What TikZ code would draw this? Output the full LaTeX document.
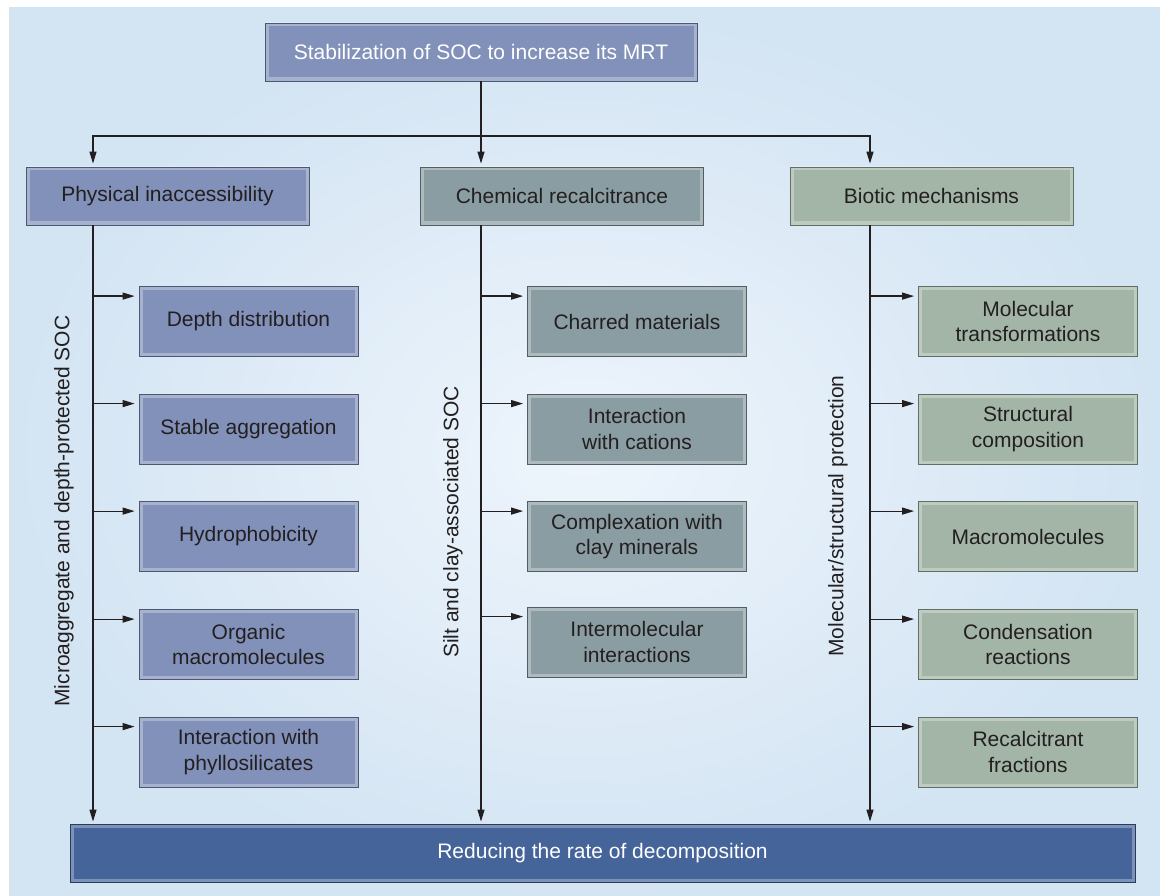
\documentclass[tikz,border=0pt]{standalone}
\usepackage{fontspec}
\setmainfont{Liberation Sans}
\usetikzlibrary{arrows.meta,calc}
\definecolor{physfill}{HTML}{8191B9}
\definecolor{chemfill}{HTML}{8A9DA3}
\definecolor{biofill}{HTML}{A3B5A7}
\definecolor{endfill}{HTML}{44649A}
\definecolor{inktext}{HTML}{231F20}
\definecolor{bgblue}{HTML}{D3E4F3}
\definecolor{bglight}{HTML}{EEF5FC}
\begin{document}
\begin{tikzpicture}[x=1pt,y=-1pt,
    every node/.style={font=\fontsize{21}{25.5}\selectfont, text=inktext},
    box/.style={draw=#1!60!black, fill=#1, line width=0.8pt, align=center, inner sep=0pt,
      path picture={\draw[white, opacity=0.3, line width=7pt]
        (path picture bounding box.south west) rectangle (path picture bounding box.north east);}},
    head/.style={box=#1, minimum width=283pt, minimum height=58pt},
    item/.style={box=#1, minimum width=219pt, minimum height=70pt},
    arr/.style={-{Triangle[length=12pt,width=7pt]}, line width=1.2pt, draw=inktext},
    side/.style={rotate=90}]
  \useasboundingbox (0,0) rectangle (1160,896);
  \shade[inner color=bglight, outer color=bgblue] (9,8) rectangle (1160,896);

  % top and bottom
  \node[box=physfill, minimum width=432pt, minimum height=58pt, text=white] (goal) at (481,52) {Stabilization of SOC to increase its MRT};
  \node[box=endfill, minimum width=1065pt, minimum height=58pt, text=white] (rate) at (602.5,853) {Reducing the rate of decomposition};

  % three mechanisms
  \node[head=physfill] (phys) at (167.5,196) {Physical inaccessibility};
  \node[head=chemfill] (chem) at (562,196) {Chemical recalcitrance};
  \node[head=biofill] (bio) at (931.5,196) {Biotic mechanisms};

  \node[item=physfill] (p1) at (248.5,321.5) {Depth distribution};
  \node[item=physfill] (p2) at (248.5,429) {Stable aggregation};
  \node[item=physfill] (p3) at (248.5,536.5) {Hydrophobicity};
  \node[item=physfill] (p4) at (248.5,644.5) {Organic\\macromolecules};
  \node[item=physfill] (p5) at (248.5,752) {Interaction with\\phyllosilicates};

  \node[item=chemfill] (c1) at (637,321.5) {Charred materials};
  \node[item=chemfill] (c2) at (637,429) {Interaction\\with cations};
  \node[item=chemfill] (c3) at (637,536.5) {Complexation with\\clay minerals};
  \node[item=chemfill] (c4) at (637,642) {Intermolecular\\interactions};

  \node[item=biofill] (b1) at (1028,321.5) {Molecular\\transformations};
  \node[item=biofill] (b2) at (1028,429) {Structural\\composition};
  \node[item=biofill] (b3) at (1028,536.5) {Macromolecules};
  \node[item=biofill] (b4) at (1028,644.5) {Condensation\\reactions};
  \node[item=biofill] (b5) at (1028,752) {Recalcitrant\\fractions};

  \node[side] (lbla) at (64,511) {Microaggregate and depth-protected SOC};
  \node[side] (lblb) at (453,522) {Silt and clay-associated SOC};
  \node[side] (lblc) at (838,516) {Molecular/structural protection};

  % connectors
  \coordinate (ta) at (93,0);
  \coordinate (tb) at (481,0);
  \coordinate (tc) at (870,0);
  \coordinate (split) at (481,136);
  \draw[arr, shorten >=3pt] (goal.south) -- (chem.north -| tb);
  \draw[arr, shorten >=3pt] (split) -| (phys.north -| ta);
  \draw[arr, shorten >=3pt] (split) -| (bio.north -| tc);

  \draw[arr, shorten >=2pt] (phys.south -| ta) -- (rate.north -| ta);
  \draw[arr, shorten >=2pt] (chem.south -| tb) -- (rate.north -| tb);
  \draw[arr, shorten >=2pt] (bio.south -| tc) -- (rate.north -| tc);

  \foreach \n in {p1,p2,p3,p4,p5}
    \draw[arr] (ta |- \n.north west) ++(0,10) -- ($(\n.north west)+(-4,10)$);
  \foreach \n in {c1,c2,c3,c4}
    \draw[arr] (tb |- \n.north west) ++(0,10) -- ($(\n.north west)+(-4,10)$);
  \foreach \n in {b1,b2,b3,b4,b5}
    \draw[arr] (tc |- \n.north west) ++(0,10) -- ($(\n.north west)+(-4,10)$);
\end{tikzpicture}
\end{document}
